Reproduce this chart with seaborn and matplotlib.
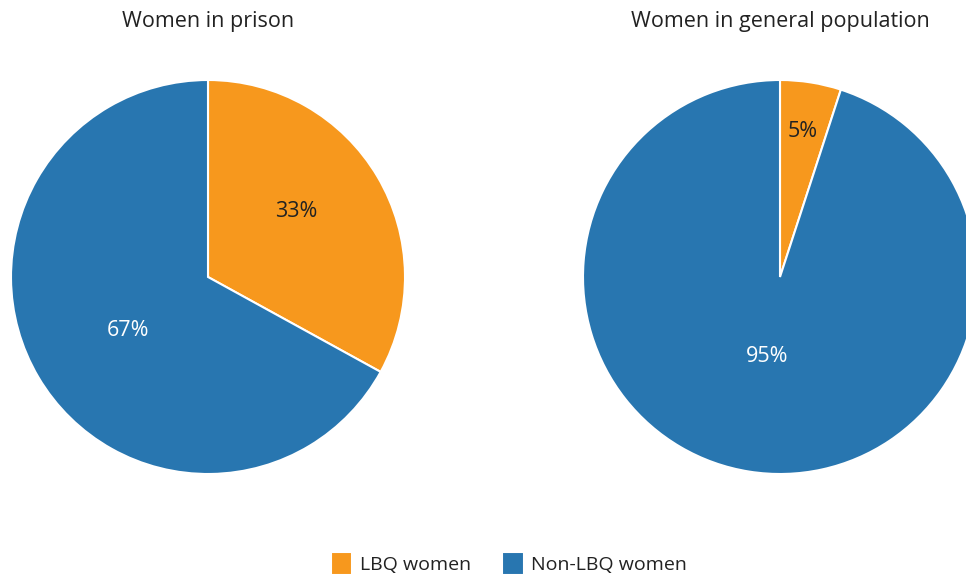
import matplotlib
matplotlib.use("Agg")
import matplotlib.pyplot as plt
import numpy as np
import seaborn as sns

groups = ["LBQ women", "Non-LBQ women"]
prison = [33, 67]
general = [5, 95]
titles = ["Women in prison", "Women in general population"]
colors = ["#F7981D", "#2876B0"]
text_colors = ["#222222", "white"]

sns.set_theme(style="white")
plt.rcParams['font.family'] = ['Open Sans', 'DejaVu Sans']

fig = plt.figure(figsize=(9.66, 5.75), dpi=100)
W, H = 966, 575
r = 197

def pie_axes(cx, cy):
    return fig.add_axes([(cx - r) / W, (H - cy - r) / H, 2 * r / W, 2 * r / H])

ax1 = pie_axes(208, 277)
ax2 = pie_axes(780, 277)

# label placement per slice: (distance as fraction of radius, angle shift in degrees)
label_place = [[(0.56, 6), (0.49, 3)], [(0.75, 0), (0.41, 0)]]

for ax, vals, title, places in zip([ax1, ax2], [prison, general], titles, label_place):
    wedges, _ = ax.pie(vals, colors=colors, startangle=90, counterclock=False,
                       wedgeprops=dict(edgecolor="white", linewidth=1.5))
    for w, v, (d, shift), tc in zip(wedges, vals, places, text_colors):
        ang = np.deg2rad((w.theta1 + w.theta2) / 2 + shift)
        ax.text(d * np.cos(ang), d * np.sin(ang), f"{v}%", ha="center", va="center",
                fontsize=15.5, color=tc)
    ax.set_xlim(-1, 1)
    ax.set_ylim(-1, 1)
    ax.set_aspect("auto")
    ax.set_axis_off()
    ax.set_title(title, fontsize=15.5, color="#222222", pad=38)

fig.legend(wedges, groups, loc="lower center", bbox_to_anchor=(0.527, -0.03), ncol=2,
           frameon=False, fontsize=14, handlelength=1.1, handleheight=1.4,
           columnspacing=1.6, handletextpad=0.4,
           labelcolor="#222222")

fig.savefig("out.png", dpi=100)
